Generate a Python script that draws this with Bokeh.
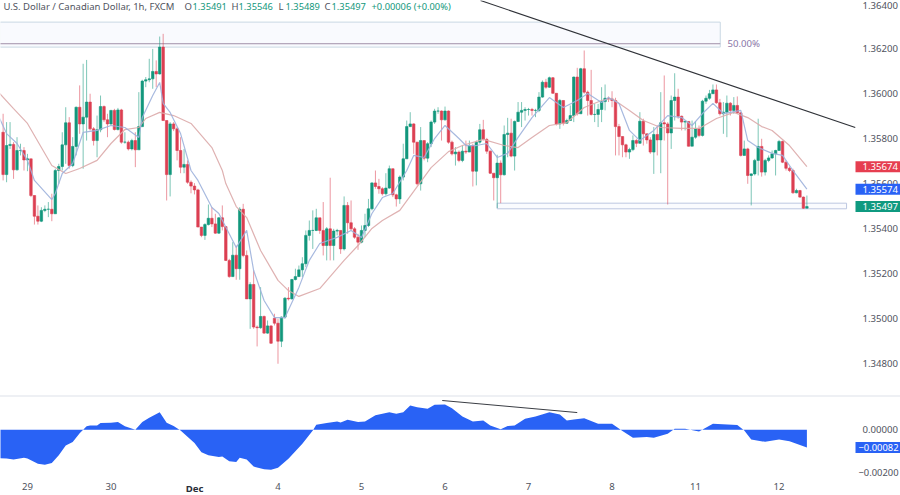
from bokeh.plotting import figure
from bokeh.layouts import column
from bokeh.models import ColumnDataSource, FixedTicker, Label, Range1d, Div
from bokeh.embed import file_html
from bokeh.resources import INLINE

first_open = 1.35827
closes = [
1.35639,1.35768,1.35773,1.35660,1.35746,1.35746,1.35704,1.35709,1.35546,1.35454,
1.35432,1.35480,1.35485,1.35485,1.35465,1.35657,1.35675,1.35771,1.35869,1.35679,
1.35764,1.35938,1.35864,1.35894,1.35961,1.35842,1.35790,1.35838,1.35941,1.35882,
1.35864,1.35924,1.35839,1.35926,1.35783,1.35783,1.35753,1.35790,1.35749,1.35852,
1.36054,1.36060,1.36064,1.36097,1.36086,1.36205,1.35879,1.35639,1.35864,1.35842,
1.35746,1.35672,1.35684,1.35605,1.35588,1.35571,1.35406,1.35369,1.35417,1.35445,
1.35420,1.35379,1.35447,1.35408,1.35258,1.35186,1.35281,1.35221,1.35485,1.35280,
1.35087,1.35151,1.34962,1.34959,1.35009,1.34935,1.34967,1.34890,1.34979,1.34899,
1.35006,1.35090,1.35087,1.35173,1.35186,1.35216,1.35243,1.35369,1.35391,1.35391,
1.35447,1.35391,1.35324,1.35398,1.35324,1.35388,1.35391,1.35309,1.35502,1.35425,
1.35398,1.35361,1.35339,1.35391,1.35413,1.35487,1.35602,1.35586,1.35576,1.35554,
1.35579,1.35665,1.35549,1.35531,1.35628,1.35709,1.35852,1.35864,1.35783,1.35598,
1.35790,1.35712,1.35776,1.35872,1.35921,1.35921,1.35882,1.35921,1.35783,1.35731,
1.35739,1.35702,1.35743,1.35739,1.35768,1.35654,1.35783,1.35838,1.35795,1.35743,
1.35645,1.35625,1.35690,1.35638,1.35817,1.35823,1.35721,1.35875,1.35916,1.35924,
1.35928,1.35928,1.35924,1.35924,1.35983,1.36049,1.36027,1.36069,1.36000,1.35864,
1.35968,1.35867,1.35879,1.35901,1.36072,1.35909,1.36109,1.36005,1.35968,1.35906,
1.35906,1.35928,1.35963,1.35978,1.35975,1.35968,1.35852,1.35808,1.35771,1.35739,
1.35750,1.35790,1.35778,1.35876,1.35820,1.35793,1.35739,1.35817,1.35793,1.35869,
1.35864,1.35824,1.35968,1.35983,1.35898,1.35872,1.35875,1.35765,1.35805,1.35842,
1.35813,1.35965,1.35978,1.35998,1.36015,1.35958,1.35909,1.35916,1.35956,1.35924,
1.35946,1.35913,1.35724,1.35753,1.35635,1.35642,1.35702,1.35764,1.35650,1.35702,
1.35713,1.35731,1.35746,1.35786,1.35694,1.35667,1.35657,1.35558,1.35568,1.35539,
1.35490,1.35497]
highs = [
1.35909,1.35872,1.35872,1.35783,1.35805,1.35776,1.35761,1.35731,1.35687,1.35546,
1.35502,1.35494,1.35502,1.35517,1.35554,1.35665,1.35687,1.35827,1.35938,1.35894,
1.35805,1.35941,1.36035,1.36131,1.36148,1.35998,1.35850,1.35901,1.35990,1.35946,
1.35909,1.35926,1.35931,1.35935,1.35931,1.35827,1.35790,1.35798,1.35827,1.36005,
1.36060,1.36072,1.36153,1.36197,1.36146,1.36252,1.36264,1.35879,1.35872,1.35872,
1.35850,1.35805,1.35753,1.35702,1.35613,1.35601,1.35576,1.35406,1.35423,1.35506,
1.35494,1.35465,1.35450,1.35502,1.35408,1.35265,1.35339,1.35324,1.35494,1.35509,
1.35302,1.35161,1.35213,1.34969,1.35139,1.35013,1.34991,1.34969,1.35021,1.34999,
1.35009,1.35095,1.35139,1.35176,1.35221,1.35235,1.35272,1.35391,1.35435,1.35480,
1.35487,1.35443,1.35517,1.35406,1.35625,1.35398,1.35398,1.35391,1.35542,1.35517,
1.35524,1.35406,1.35376,1.35413,1.35465,1.35531,1.35605,1.35657,1.35620,1.35583,
1.35645,1.35679,1.35665,1.35554,1.35635,1.35776,1.35879,1.35916,1.35867,1.35783,
1.35850,1.35790,1.35783,1.35879,1.35931,1.35938,1.35924,1.35941,1.35924,1.35790,
1.35761,1.35746,1.35768,1.35790,1.35790,1.35776,1.35790,1.35864,1.35882,1.35802,
1.35746,1.35642,1.35727,1.35702,1.35857,1.35891,1.35887,1.35879,1.35961,1.35961,
1.35938,1.35935,1.35935,1.35931,1.36005,1.36057,1.36064,1.36074,1.36072,1.36000,
1.35975,1.35968,1.35887,1.35946,1.36074,1.36113,1.36113,1.36190,1.36012,1.36104,
1.35953,1.35953,1.36027,1.36039,1.35986,1.36009,1.35980,1.35864,1.35808,1.35776,
1.35758,1.35813,1.35798,1.35916,1.35887,1.35820,1.35805,1.35850,1.35857,1.36005,
1.36079,1.35872,1.35990,1.36089,1.36020,1.35901,1.35879,1.35876,1.35879,1.35876,
1.35857,1.35971,1.35990,1.36015,1.36039,1.36039,1.35975,1.35961,1.35990,1.35961,
1.35983,1.35986,1.35916,1.35790,1.35758,1.35645,1.35709,1.35887,1.35798,1.35709,
1.35724,1.35746,1.35749,1.35793,1.35790,1.35702,1.35675,1.35665,1.35576,1.35571,
1.35542,1.35546]
lows = [
1.35613,1.35605,1.35753,1.35620,1.35657,1.35724,1.35657,1.35654,1.35539,1.35417,
1.35417,1.35428,1.35472,1.35450,1.35432,1.35465,1.35598,1.35657,1.35687,1.35665,
1.35672,1.35724,1.35820,1.35665,1.35790,1.35835,1.35768,1.35716,1.35827,1.35872,
1.35805,1.35857,1.35835,1.35835,1.35776,1.35776,1.35746,1.35746,1.35672,1.35761,
1.35850,1.36027,1.36049,1.36020,1.36027,1.36083,1.35879,1.35524,1.35542,1.35832,
1.35702,1.35645,1.35645,1.35598,1.35556,1.35551,1.35406,1.35361,1.35349,1.35413,
1.35406,1.35376,1.35376,1.35391,1.35255,1.35181,1.35184,1.35172,1.35172,1.35272,
1.35087,1.34954,1.34954,1.34876,1.34954,1.34932,1.34932,1.34888,1.34969,1.34799,
1.34873,1.34999,1.35080,1.35084,1.35169,1.35184,1.35184,1.35228,1.35346,1.35309,
1.35388,1.35376,1.35280,1.35258,1.35258,1.35258,1.35369,1.35287,1.35302,1.35376,
1.35391,1.35354,1.35305,1.35334,1.35361,1.35406,1.35480,1.35576,1.35554,1.35546,
1.35546,1.35576,1.35539,1.35497,1.35509,1.35613,1.35709,1.35850,1.35731,1.35591,
1.35568,1.35702,1.35694,1.35761,1.35864,1.35909,1.35790,1.35879,1.35776,1.35724,
1.35679,1.35694,1.35694,1.35731,1.35739,1.35586,1.35591,1.35776,1.35790,1.35731,
1.35642,1.35524,1.35490,1.35512,1.35635,1.35716,1.35716,1.35657,1.35872,1.35850,
1.35879,1.35901,1.35901,1.35894,1.35916,1.35980,1.36020,1.36024,1.35998,1.35857,
1.35842,1.35857,1.35864,1.35879,1.35872,1.35901,1.35909,1.35998,1.35901,1.35901,
1.35872,1.35850,1.35872,1.35924,1.35961,1.35938,1.35724,1.35724,1.35716,1.35716,
1.35709,1.35743,1.35761,1.35776,1.35768,1.35776,1.35731,1.35642,1.35724,1.35645,
1.35790,1.35506,1.35753,1.35879,1.35887,1.35835,1.35835,1.35764,1.35790,1.35798,
1.35805,1.35808,1.35953,1.35971,1.35998,1.35953,1.35901,1.35820,1.35805,1.35901,
1.35909,1.35909,1.35719,1.35724,1.35598,1.35502,1.35635,1.35635,1.35630,1.35635,
1.35694,1.35709,1.35635,1.35746,1.35690,1.35657,1.35650,1.35554,1.35556,1.35536,
1.35487,1.35490]

gap_open_bar = 78
gap_open_price = 1.35001

fast_bars = [-1,1,4,7,9,14,15,17,20,23,27,31,35,39,40,43,45,46,48,51,54,56,60,62,67,70,72,75,78,81,85,88,91,96,100,103,106,109,112,116,118,121,124,127,131,133,136,139,142,145,148,152,157,161,165,168,172,174,177,180,183,187,191,195,198,201,204,207,212,214,217,221,224,227,231]
fast_ma = [1.35888,1.35821,1.35777,1.35702,1.35613,1.35528,1.35555,1.35644,1.35688,1.35826,1.35835,1.35857,1.35848,1.35804,1.35892,1.35990,1.36048,1.35955,1.35915,1.35821,1.35657,1.35613,1.35493,1.35466,1.35315,1.35391,1.35213,1.35080,1.35004,1.35004,1.35138,1.35258,1.35333,1.35360,1.35391,1.35360,1.35466,1.35537,1.35555,1.35657,1.35724,1.35715,1.35799,1.35857,1.35799,1.35768,1.35768,1.35777,1.35715,1.35733,1.35804,1.35892,1.35981,1.35937,1.35968,1.35999,1.35959,1.35981,1.35955,1.35835,1.35790,1.35835,1.35901,1.35892,1.35857,1.35910,1.35955,1.35910,1.35924,1.35790,1.35759,1.35733,1.35724,1.35657,1.35574]
slow_bars = [-1,3,7,11,14,18,22,27,31,35,39,41,45,49,54,60,63,64,67,70,74,79,82,85,91,98,102,106,109,114,118,123,128,132,138,144,148,152,157,162,167,172,175,180,184,189,195,200,205,210,214,218,221,226,231]
slow_ma = [1.35999,1.35932,1.35866,1.35759,1.35679,1.35644,1.35666,1.35702,1.35777,1.35839,1.35848,1.35888,1.35915,1.35901,1.35866,1.35759,1.35657,1.35599,1.35497,1.35448,1.35302,1.35169,1.35124,1.35098,1.35133,1.35258,1.35324,1.35400,1.35435,1.35480,1.35564,1.35670,1.35741,1.35768,1.35795,1.35768,1.35759,1.35804,1.35857,1.35870,1.35937,1.35968,1.35977,1.35924,1.35879,1.35848,1.35844,1.35844,1.35888,1.35915,1.35892,1.35852,1.35835,1.35768,1.35674]

osc_bars = [-1,1,3,6,7,10,12,14,16,18,20,22,24,25,27,28,31,33,35,38,40,42,45,47,49,51,55,57,59,62,63,65,67,68,70,72,75,77,79,82,86,89,90,93,96,97,99,102,104,107,111,113,115,117,119,122,124,127,129,132,135,138,140,143,145,147,150,153,157,160,162,164,167,171,175,178,181,185,187,191,193,196,200,204,211,213,215,219,223,226,231]
osc_vals = [-0.00132,-0.00133,-0.00138,-0.00130,-0.00133,-0.00158,-0.00163,-0.00155,-0.00119,-0.00073,-0.00057,-0.00016,0.00016,0.00020,0.00020,0.00031,0.00033,0.00036,0.00016,0.00000,0.00036,0.00056,0.00082,0.00033,0.00017,-0.00003,-0.00062,-0.00104,-0.00119,-0.00127,-0.00124,-0.00146,-0.00150,-0.00130,-0.00138,-0.00171,-0.00183,-0.00186,-0.00177,-0.00135,-0.00065,-0.00003,0.00023,0.00031,0.00039,0.00034,0.00047,0.00036,0.00039,0.00067,0.00081,0.00074,0.00082,0.00113,0.00105,0.00098,0.00116,0.00118,0.00100,0.00062,0.00039,0.00043,0.00020,0.00002,0.00017,0.00020,0.00051,0.00062,0.00082,0.00071,0.00043,0.00048,0.00054,0.00028,0.00028,-0.00006,-0.00037,-0.00034,-0.00037,-0.00019,0.00005,0.00005,-0.00008,0.00028,0.00022,-0.00003,-0.00045,-0.00056,-0.00045,-0.00053,-0.00082]

day_bars = [7,31,55,79,103,127,151,175,199,223]
day_labels = ["29","30","Dec","4","5","6","7","8","11","12"]
price_ticks = [1.348,1.350,1.352,1.354,1.356,1.358,1.360,1.362]
osc_ticks = [0.0]

zone_x = (-1, 206.1)
zone_y = (1.36205, 1.36316)
zone_mid = 1.36220
support_x = (142, 242.4)
support_y = (1.35487, 1.35512)
trend_x = (137.2, 244.9)
trend_y = (1.36412, 1.35848)
osc_trend_x = (126.2, 165)
osc_trend_y = (0.00136, 0.00080)

GREEN = "#12977c"
RED = "#dc3f52"
BLUE = "#2962f5"
FONT = "Noto Sans"
TXT = "#50535e"
SIZE = "9.6px"
AXIS_BAR = 244.95

opens = [first_open] + closes[:-1]
opens[gap_open_bar] = gap_open_price
bars = list(range(len(closes)))
colors = [GREEN if c >= o else RED for o, c in zip(opens, closes)]
src = ColumnDataSource(dict(x=bars, o=opens, c=closes, h=highs, l=lows, col=colors))

x_range = (-0.75, 257.9)


def style_axis(ax):
    ax.axis_line_color = None
    ax.major_tick_line_color = None
    ax.minor_tick_line_color = None
    ax.major_tick_in = 0
    ax.major_tick_out = 0
    ax.minor_tick_in = 0
    ax.minor_tick_out = 0
    ax.major_label_text_font = FONT
    ax.major_label_text_font_size = SIZE
    ax.major_label_text_color = TXT


top = figure(width=900, height=395, output_backend="svg", toolbar_location=None,
             x_range=Range1d(*x_range), y_range=Range1d(1.34658, 1.36412),
             y_axis_location="right", min_border_left=0, min_border_right=0,
             min_border_top=0, min_border_bottom=0, outline_line_color=None)
top.xaxis.visible = False
top.grid.visible = False
style_axis(top.yaxis[0])
top.yaxis[0].ticker = FixedTicker(ticks=price_ticks)
top.yaxis[0].major_label_overrides = {t: f"{t:.5f}" for t in price_ticks}
top.yaxis[0].major_label_standoff = 7
top.yaxis[0].fixed_location = AXIS_BAR

top.quad(left=zone_x[0], right=zone_x[1], bottom=zone_y[0], top=zone_y[1],
         fill_color="#f9fafe", line_color="#c9d8e3", line_width=1)
top.line(zone_x, [zone_mid, zone_mid], line_color="#a08fa8", line_width=1)
top.quad(left=support_x[0], right=support_x[1], bottom=support_y[0], top=support_y[1],
         fill_color="#fafbfe", line_color="#bcc7e0", line_width=1)

top.segment("x", "l", "x", "h", source=src, line_color="col", line_width=1, line_alpha=0.55)
top.vbar("x", 0.72, "o", "c", source=src, fill_color="col", line_color="col", line_width=0.6)
top.line(slow_bars, slow_ma, line_color="#dcaaaa", line_width=1.2, line_alpha=0.9)
top.line(fast_bars, fast_ma, line_color="#9db1dc", line_width=1.2, line_alpha=0.9)
top.line(trend_x, trend_y, line_color="#2f3238", line_width=1.1)

top.add_layout(Label(x=727, x_units="screen", y=zone_mid, text="50.00%", text_color="#8a76a8",
                     text_font=FONT, text_font_size=SIZE, text_baseline="middle"))
top.add_layout(Label(x=862, x_units="screen", y=1.36390, text="1.36400", text_color=TXT,
                     text_font=FONT, text_font_size=SIZE, text_baseline="middle"))

# legend header
header_y = 1.36385
header = [
    (3, "U.S. Dollar / Canadian Dollar, 1h, FXCM", "#50535e", "9.5px"),
    (184, "O", "#50535e", "9.5px"), (192, "1.35491", GREEN, "9.3px"),
    (231, "H", "#50535e", "9.5px"), (238, "1.35546", GREEN, "9.3px"),
    (278, "L", "#50535e", "9.5px"), (285, "1.35489", GREEN, "9.3px"),
    (324, "C", "#50535e", "9.5px"), (331, "1.35497", GREEN, "9.3px"),
    (371, "+0.00006 (+0.00%)", GREEN, "9.3px"),
]
for hx, txt, col, sz in header:
    top.add_layout(Label(x=hx, x_units="screen", y=header_y, text=txt, text_color=col,
                         text_font=FONT, text_font_size=sz, text_baseline="middle"))

# price badges
for price, txt, col in [(1.35674, "1.35674", "#e63e50"), (1.35574, "1.35574", "#2962f5"),
                        (1.35497, "1.35497", "#0f9a80")]:
    top.add_layout(Label(x=855, x_units="screen", y=price, text=txt, text_color="#ffffff",
                         text_font=FONT, text_font_size=SIZE, text_baseline="middle",
                         background_fill_color=col, padding=(7, 2)))

sep = Div(width=900, height=2, styles={"background": "#eef0f4"}, margin=(0, 0, 0, 0))

low = figure(width=900, height=98, output_backend="svg", toolbar_location=None,
             x_range=Range1d(*x_range), y_range=Range1d(-0.003055, 0.00150),
             y_axis_location="right", min_border_left=0, min_border_right=0,
             min_border_top=0, min_border_bottom=0, outline_line_color=None)
low.grid.visible = False
style_axis(low.yaxis[0])
low.yaxis[0].ticker = FixedTicker(ticks=osc_ticks)
low.yaxis[0].major_label_overrides = {0.0: "0.00000"}
low.yaxis[0].major_label_standoff = 7
low.yaxis[0].fixed_location = AXIS_BAR
style_axis(low.xaxis[0])
low.xaxis[0].ticker = FixedTicker(ticks=day_bars)
low.xaxis[0].major_label_overrides = {b: ("" if t == "Dec" else t) for b, t in zip(day_bars, day_labels)}
low.xaxis[0].major_label_standoff = 2
low.xaxis[0].fixed_location = -0.00236

low.varea(x=osc_bars, y1=osc_vals, y2=[0.0] * len(osc_bars), fill_color=BLUE)
low.line(osc_trend_x, osc_trend_y, line_color="#3a3d44", line_width=1)

for b, t in zip(day_bars, day_labels):
    if t == "Dec":
        low.add_layout(Label(x=b, y=-0.00273, text=t, text_color="#2a2e39", text_font=FONT,
                             text_font_size=SIZE, text_font_style="bold", text_align="center",
                             text_baseline="middle"))

low.add_layout(Label(x=858, x_units="screen", y=-0.002, text="\u22120.00200", text_color=TXT,
                     text_font=FONT, text_font_size="9.4px", text_baseline="middle"))
low.add_layout(Label(x=855, x_units="screen", y=osc_vals[-1], text="\u22120.00082", text_color="#ffffff",
                     text_font=FONT, text_font_size="9.4px", text_baseline="middle",
                     background_fill_color=BLUE, padding=(3, 2)))

page = column(top, sep, low, spacing=0, styles={"position": "absolute", "left": "0px", "top": "0px"})
open("out.html", "w").write(file_html(page, INLINE))
